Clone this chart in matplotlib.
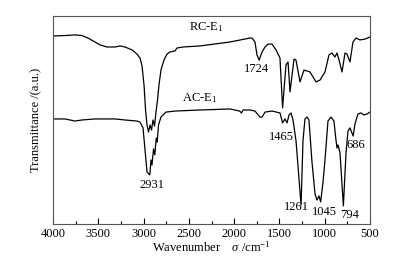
import matplotlib
matplotlib.use("Agg")
import matplotlib.pyplot as plt
from matplotlib.ticker import MultipleLocator

plt.rcParams['font.family'] = ['Liberation Serif', 'DejaVu Serif']
plt.rcParams['mathtext.fontset'] = 'custom'
plt.rcParams['mathtext.rm'] = 'Liberation Serif'
plt.rcParams['mathtext.it'] = 'Liberation Serif:italic'

# FTIR spectra (wavenumber in cm^-1, transmittance in a.u.)
rc_wn = [4000, 3868, 3757, 3680, 3614, 3536, 3481, 3404, 3316, 3260, 3205, 3128,
         3073, 3039, 3017, 2995, 2978, 2962, 2945, 2929, 2912, 2896, 2879, 2863,
         2846, 2830, 2808, 2775, 2741, 2708, 2653, 2631, 2565, 2377, 2046, 1825,
         1803, 1770, 1748, 1724, 1692, 1659, 1626, 1582, 1538, 1494, 1465, 1428,
         1405, 1383, 1339, 1317, 1273, 1229, 1163, 1129, 1096, 1052, 997, 953,
         920, 887, 864, 842, 809, 776, 754, 721, 688, 655, 611, 555, 500]
rc_t = [90.4, 90.6, 90.9, 90.6, 89.4, 87.5, 86.1, 85.1, 85.1, 85.6, 85.1, 83.7,
        81.7, 79.8, 76.0, 66.8, 54.8, 47.6, 44.2, 47.6, 45.2, 50.0, 47.1, 53.8,
        59.6, 66.8, 74.0, 78.8, 81.7, 82.7, 83.2, 84.6, 85.1, 85.6, 87.5, 89.4,
        89.4, 87.5, 81.3, 78.8, 82.7, 85.1, 86.5, 86.5, 83.7, 79.8, 55.8, 76.4,
        77.9, 63.5, 79.3, 78.8, 68.3, 74.0, 73.1, 70.7, 68.3, 69.2, 73.1, 81.3,
        82.2, 80.3, 82.2, 78.8, 73.1, 82.2, 81.7, 77.9, 87.5, 89.4, 88.5, 88.9, 89.9]

ac_wn = [4000, 3868, 3757, 3680, 3536, 3316, 3205, 3073, 3039, 3006, 2984, 2962,
         2931, 2918, 2907, 2890, 2876, 2860, 2850, 2835, 2808, 2752, 2653, 2377,
         2046, 1940, 1920, 1900, 1825, 1770, 1715, 1692, 1659, 1582, 1494, 1465,
         1439, 1416, 1394, 1372, 1350, 1317, 1261, 1240, 1218, 1196, 1174, 1141,
         1107, 1085, 1063, 1045, 1019, 997, 964, 931, 898, 876, 864, 853, 831,
         794, 765, 743, 721, 686, 666, 633, 600, 567, 533, 500]
ac_t = [50.5, 50.5, 49.5, 50.0, 50.5, 50.5, 50.0, 49.5, 49.0, 46.2, 35.6, 25.0,
        23.6, 30.8, 28.4, 36.1, 33.2, 41.3, 39.4, 47.6, 51.4, 53.8, 54.3, 54.8,
        55.3, 54.3, 53.4, 54.8, 54.8, 54.3, 51.4, 51.4, 53.8, 54.3, 53.4, 48.6,
        50.5, 48.6, 52.4, 53.4, 50.0, 40.0, 9.1, 40.0, 50.5, 51.4, 50.0, 30.0,
        14.4, 11.5, 13.5, 10.6, 20.0, 30.8, 49.5, 51.4, 49.5, 40.4, 36.5, 38.0, 34.1,
        8.7, 34.1, 44.7, 46.2, 42.3, 48.1, 52.9, 53.4, 52.4, 52.9, 53.8]

# peak annotations: (text, wavenumber, transmittance)
peak_labels = ['1724', '1465', '686', '2931', '1261', '1045', '794']
peak_wn = [1748, 1483, 655, 2907, 1310, 1008, 721]
peak_t = [74.5, 41.8, 38.0, 18.8, 8.2, 5.8, 4.3]

fig = plt.figure(figsize=(3.97, 2.60), dpi=100)
ax = fig.add_axes([0.1335, 0.1385, 0.7985, 0.80])

ax.plot(rc_wn, rc_t, color='black', lw=0.9)
ax.plot(ac_wn, ac_t, color='black', lw=0.9)

ax.text(2311, 94.7, r'RC-E$_\mathregular{1}$', fontsize=9, ha='center', va='center')
ax.text(2377, 60.6, r'AC-E$_\mathregular{1}$', fontsize=9, ha='center', va='center')
for lab, x, y in zip(peak_labels, peak_wn, peak_t):
    ax.text(x, y, lab, fontsize=9, ha='center', va='center')

ax.set_xlim(4000, 500)
ax.set_ylim(0, 100)
ax.xaxis.set_major_locator(MultipleLocator(500))
ax.xaxis.set_minor_locator(MultipleLocator(250))
ax.tick_params(axis='x', which='major', direction='in', length=4, width=0.8,
               labelsize=9, pad=3)
ax.tick_params(axis='x', which='minor', direction='in', length=2.5, width=0.8)
ax.set_yticks([])
for sp in ax.spines.values():
    sp.set_color('#555555')
    sp.set_linewidth(0.8)

ax.set_xlabel(r'Wavenumber    $\sigma$ /cm$^{-1}$', fontsize=9, labelpad=0)
ax.set_ylabel('Transmittance /(a.u.)', fontsize=9, labelpad=8)

fig.savefig('out.png', dpi=100)
